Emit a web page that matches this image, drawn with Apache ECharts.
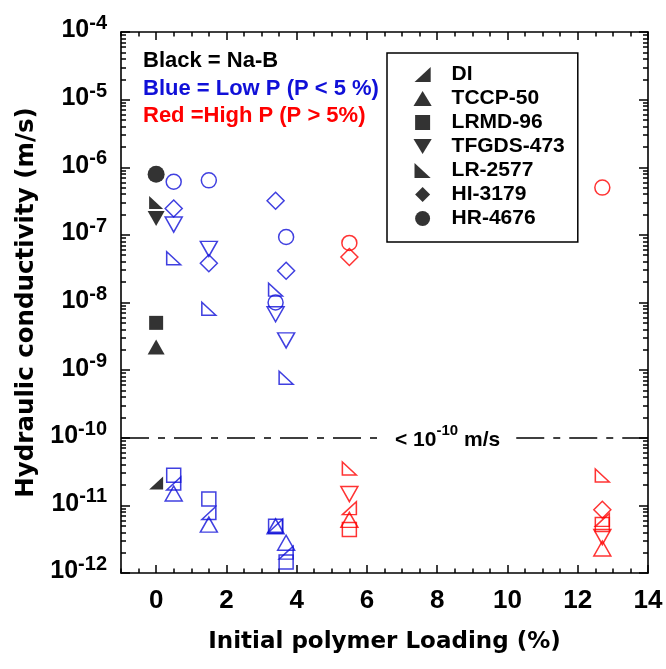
<!DOCTYPE html>
<html><head><meta charset="utf-8">
<script src="https://cdn.jsdelivr.net/npm/echarts@6.0.0/dist/echarts.min.js"></script>
<style>html,body{margin:0;padding:0;background:#fff}#c{width:666px;height:669px}</style>
</head><body><div id="c"></div>
<script>
// ---------------- data (x = initial polymer loading %, y = hydraulic conductivity m/s) ----------------
const sampleNames = ['DI', 'TCCP-50', 'LRMD-96', 'TFGDS-473', 'LR-2577', 'HI-3179', 'HR-4676'];
const xTickLabels = [0, 2, 4, 6, 8, 10, 12, 14];
const yTickLabels = [1e-12, 1e-11, 1e-10, 1e-9, 1e-8, 1e-7, 1e-6, 1e-5, 1e-4];
const detectionLimit = 1e-10;

const DI_NaB   = [[0, 2.15e-11]];
const DI_lowP  = [[0.5, 2.1e-11], [1.5, 7.7e-12], [3.4, 5.0e-12], [3.7, 2.0e-12]];
const DI_highP = [[5.5, 9.1e-12], [12.7, 6.1e-12]];

const TCCP_NaB   = [[0, 2.2e-9]];
const TCCP_lowP  = [[0.5, 1.5e-11], [1.5, 5.2e-12], [3.4, 4.9e-12], [3.7, 2.8e-12]];
const TCCP_highP = [[5.5, 6.1e-12], [12.7, 2.3e-12]];

const LRMD_NaB   = [[0, 5.0e-9]];
const LRMD_lowP  = [[0.5, 2.8e-11], [1.5, 1.24e-11], [3.4, 4.9e-12], [3.7, 1.45e-12]];
const LRMD_highP = [[5.5, 4.4e-12], [12.7, 5.2e-12]];

const TFGDS_NaB   = [[0, 1.75e-7]];
const TFGDS_lowP  = [[0.5, 1.42e-7], [1.5, 6.2e-8], [3.4, 6.7e-9], [3.7, 2.75e-9]];
const TFGDS_highP = [[5.5, 1.47e-11], [12.7, 3.4e-12]];

const LR_NaB   = [[0, 3.0e-7]];
const LR_lowP  = [[0.5, 4.5e-8], [1.5, 8.1e-9], [3.4, 1.55e-8], [3.7, 7.7e-10]];
const LR_highP = [[5.5, 3.5e-11], [12.7, 2.77e-11]];

const HI_NaB   = [];
const HI_lowP  = [[0.5, 2.46e-7], [1.5, 3.8e-8], [3.4, 3.2e-7], [3.7, 2.95e-8]];
const HI_highP = [[5.5, 4.7e-8], [12.7, 8.6e-12]];

const HR_NaB   = [[0, 7.9e-7]];
const HR_lowP  = [[0.5, 6.1e-7], [1.5, 6.4e-7], [3.4, 1.0e-8], [3.7, 9.3e-8]];
const HR_highP = [[5.5, 7.6e-8], [12.7, 5.0e-7]];

// ---------------- styles ----------------
const BLACK = '#000000', BLUE = '#1010d8', RED = '#ff0000';
const FONT = '"Liberation Sans", Arial, Helvetica, sans-serif';
const TITLE_FONT = '"DejaVu Sans", "Liberation Sans", Arial, sans-serif';

const SHAPES = {
  'DI':        {symbol: 'path://M14,0L14,13L0,13Z',        size: [14, 13]},
  'TCCP-50':   {symbol: 'path://M0,14L8.5,0L17,14Z',       size: [17, 15]},
  'LRMD-96':   {symbol: 'path://M0,0L14,0L14,14L0,14Z',    size: [14, 14]},
  'TFGDS-473': {symbol: 'path://M0,0L17,0L8.5,14Z',        size: [17, 15]},
  'LR-2577':   {symbol: 'path://M0,0L0,13L14,13Z',         size: [14, 13]},
  'HI-3179':   {symbol: 'path://M8,0L16,8L8,16L0,8Z',      size: [17, 17]},
  'HR-4676':   {symbol: 'circle',                          size: [15, 15]}
};

const groups = [
  ['DI', DI_NaB, DI_lowP, DI_highP],
  ['TCCP-50', TCCP_NaB, TCCP_lowP, TCCP_highP],
  ['LRMD-96', LRMD_NaB, LRMD_lowP, LRMD_highP],
  ['TFGDS-473', TFGDS_NaB, TFGDS_lowP, TFGDS_highP],
  ['LR-2577', LR_NaB, LR_lowP, LR_highP],
  ['HI-3179', HI_NaB, HI_lowP, HI_highP],
  ['HR-4676', HR_NaB, HR_lowP, HR_highP]
];

function scatter(name, data, color, filled, sizeBoost) {
  const s = SHAPES[name.split(' ')[0]];
  return {
    type: 'scatter', name: name, data: data,
    xAxisIndex: 0, yAxisIndex: 0,
    symbol: s.symbol,
    symbolSize: [s.size[0] + sizeBoost, s.size[1] + sizeBoost],
    itemStyle: filled
      ? {color: color, borderWidth: 0}
      : {color: 'rgba(0,0,0,0)', borderColor: color, borderWidth: 1.5},
    emphasis: {disabled: true},
    silent: true,
    z: filled ? 3 : 4
  };
}

const series = [];
groups.forEach(g => {
  const boost = g[0] === 'HR-4676' ? 2 : 0;
  series.push(scatter(g[0], g[1], BLACK, true, boost));
  series.push(scatter(g[0] + ' (low P)', g[2], BLUE, false, 0));
  series.push(scatter(g[0] + ' (high P)', g[3], RED, false, 0));
});

// detection-limit line (broken where the annotation sits)
series[0].markLine = {
  silent: true, symbol: ['none', 'none'], animation: false,
  label: {show: false},
  lineStyle: {color: '#000', width: 1.5, type: [28, 9, 7, 9]},
  data: [
    [{coord: [-1, detectionLimit]}, {coord: [6.3, detectionLimit]}],
    [{coord: [10.25, detectionLimit]}, {coord: [14, detectionLimit]}]
  ]
};

// minor tick positions (style only)
const xMinor = [];
for (let v = -1; v <= 14.001; v += 0.5) xMinor.push(+v.toFixed(1));
const yMinorLog = [];
for (let e = -12; e < -4; e++) for (let k = 2; k <= 9; k++) yMinorLog.push(e + Math.log10(k));

const tick = () => ({color: '#000', width: 1.5});
const axisLine = () => ({show: true, onZero: false, lineStyle: {color: '#000', width: 1.6}});
const hiddenLine = () => ({show: false, onZero: false});
const noLabel = () => ({show: false});

const option = {
  animation: false,
  backgroundColor: '#fff',
  textStyle: {fontFamily: FONT},
  grid: {left: 121, right: 18, top: 32, bottom: 96, containLabel: false},
  xAxis: [
    {type: 'value', min: -1, max: 14, position: 'bottom',
     axisLine: axisLine(), splitLine: {show: false},
     axisTick: {show: true, inside: true, length: 8, customValues: xTickLabels, lineStyle: tick()},
     axisLabel: {show: true, customValues: xTickLabels, margin: 15, color: '#000', fontFamily: FONT, fontWeight: 'bold', fontSize: 26},
     name: 'Initial polymer Loading (%)', nameLocation: 'middle', nameGap: 58,
     nameTextStyle: {fontFamily: TITLE_FONT, fontWeight: 'bold', fontSize: 23, color: '#000'}},
    {type: 'value', min: -1, max: 14, position: 'bottom',
     axisLine: hiddenLine(), splitLine: {show: false}, axisLabel: noLabel(),
     axisTick: {show: true, inside: true, length: 4.5, customValues: xMinor, lineStyle: tick()}},
    {type: 'value', min: -1, max: 14, position: 'top',
     axisLine: axisLine(), splitLine: {show: false}, axisLabel: noLabel(),
     axisTick: {show: true, inside: true, length: 8, customValues: xTickLabels, lineStyle: tick()}},
    {type: 'value', min: -1, max: 14, position: 'top',
     axisLine: hiddenLine(), splitLine: {show: false}, axisLabel: noLabel(),
     axisTick: {show: true, inside: true, length: 4.5, customValues: xMinor, lineStyle: tick()}}
  ],
  yAxis: [
    {type: 'log', logBase: 10, min: 1e-12, max: 1e-4, interval: 1, splitNumber: 8, position: 'left',
     axisLine: axisLine(), splitLine: {show: false},
     axisTick: {show: true, inside: true, length: 9, lineStyle: tick()},
     axisLabel: {
       show: true, margin: 14, padding: [0, 0, 7, 0],
       formatter: v => '{b|10}{s|' + Math.round(Math.log10(v)) + '}',
       rich: {
         b: {fontFamily: FONT, fontWeight: 'bold', fontSize: 25, height: 26, lineHeight: 26, verticalAlign: 'bottom', color: '#000'},
         s: {fontFamily: FONT, fontWeight: 'bold', fontSize: 20, height: 20, padding: [0, 0, 10, 0], verticalAlign: 'bottom', color: '#000'}
       }
     },
     name: 'Hydraulic conductivity (m/s)', nameLocation: 'middle', nameGap: 72, nameRotate: 90,
     nameTextStyle: {fontFamily: TITLE_FONT, fontWeight: 'bold', fontSize: 24.5, color: '#000'}},
    {type: 'value', min: -12, max: -4, position: 'left',
     axisLine: hiddenLine(), splitLine: {show: false}, axisLabel: noLabel(),
     axisTick: {show: true, inside: true, length: 5, customValues: yMinorLog, lineStyle: tick()}},
    {type: 'log', logBase: 10, min: 1e-12, max: 1e-4, interval: 1, splitNumber: 8, position: 'right',
     axisLine: axisLine(), splitLine: {show: false}, axisLabel: noLabel(),
     axisTick: {show: true, inside: true, length: 9, lineStyle: tick()}},
    {type: 'value', min: -12, max: -4, position: 'right',
     axisLine: hiddenLine(), splitLine: {show: false}, axisLabel: noLabel(),
     axisTick: {show: true, inside: true, length: 5, customValues: yMinorLog, lineStyle: tick()}}
  ],
  legend: {
    show: true, orient: 'vertical', left: 387, top: 53,
    selectedMode: false,
    data: sampleNames.map(n => ({name: n, icon: SHAPES[n].symbol, itemStyle: {color: '#000', borderWidth: 0}})),
    itemWidth: 48, itemHeight: 15, itemGap: 3,
    symbolKeepAspect: true,
    padding: [11, 13, 13, 26.5],
    borderColor: '#000', borderWidth: 1.5, backgroundColor: '#fff',
    textStyle: {fontFamily: FONT, fontWeight: 'bold', fontSize: 21, color: '#000'}
  },
  graphic: [
    {type: 'text', left: 143, top: 49.5, silent: true,
     style: {text: 'Black = Na-B', fill: BLACK, font: 'bold 22px ' + FONT}},
    {type: 'text', left: 143, top: 77.5, silent: true,
     style: {text: 'Blue = Low P (P < 5 %)', fill: BLUE, font: 'bold 22px ' + FONT}},
    {type: 'text', left: 143, top: 104.5, silent: true,
     style: {text: 'Red =High P (P > 5%)', fill: RED, font: 'bold 22px ' + FONT}},
    {type: 'text', left: 395, top: 423, silent: true,
     style: {
       text: '{a|< 10}{s|-10}{a| m/s}',
       rich: {
         a: {fontFamily: FONT, fontWeight: 'bold', fontSize: 21, height: 23, verticalAlign: 'bottom', fill: '#000'},
         s: {fontFamily: FONT, fontWeight: 'bold', fontSize: 15, height: 15, padding: [0, 0, 14, 0], verticalAlign: 'bottom', fill: '#000'}
       }
     }}
  ],
  series: series
};

const chart = echarts.init(document.getElementById('c'), null, {renderer: 'canvas'});
chart.setOption(option);
</script>
</body></html>
